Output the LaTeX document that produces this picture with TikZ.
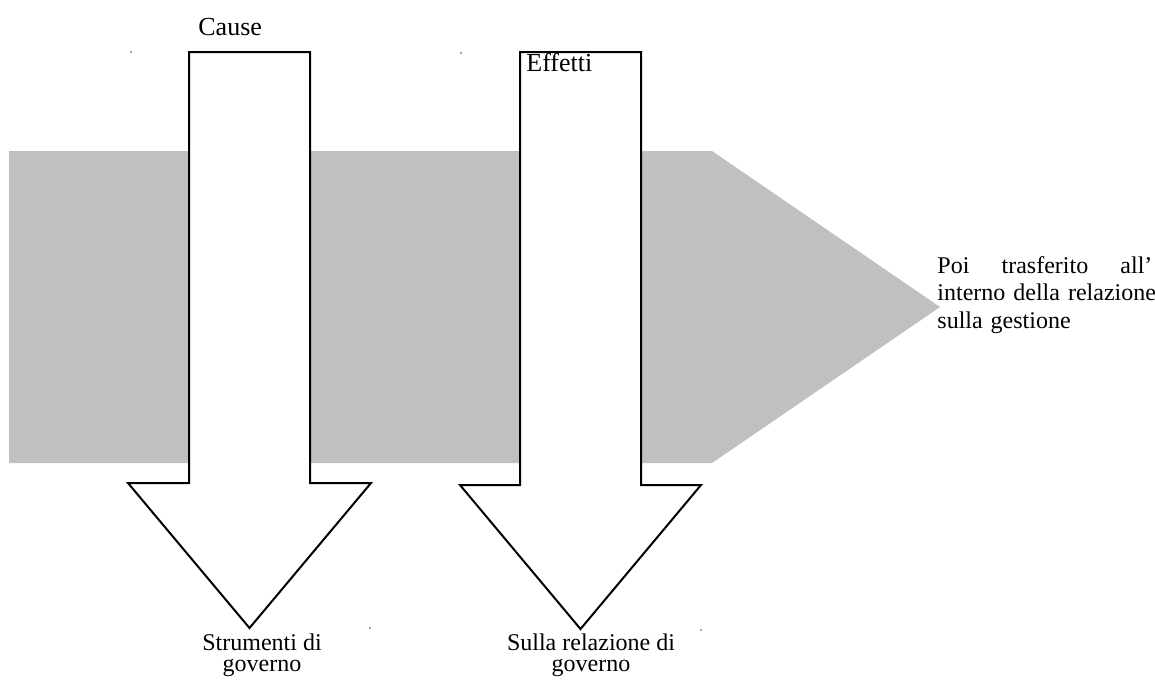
\documentclass[tikz,border=0pt]{standalone}
\usepackage{fontspec}
\setmainfont{Liberation Serif}
\definecolor{bandgray}{RGB}{192,192,192}

\begin{document}
\begin{tikzpicture}[x=0.5pt, y=-0.5pt,
        downarrow/.style={draw=black, fill=white, line width=1pt, line join=miter},
        labeltext/.style={inner sep=0pt, font=\fontsize{12}{10.5}\selectfont},
        headtext/.style={inner sep=0pt, font=\fontsize{13}{15}\selectfont},
        cornerdot/.style={fill=black!70}]
        \useasboundingbox (0,0) rectangle (1155,682);

        \fill[bandgray] (9,151) -- (712,151) -- (940,307) -- (712,463) -- (9,463) -- cycle;

        \draw[downarrow] (189,52) -- (310,52) -- (310,483) -- (371,483) -- (249.5,628) -- (128,483) -- (189,483) -- cycle;
        \draw[downarrow] (520,52) -- (641,52) -- (641,485) -- (701,485) -- (580.5,629) -- (460,485) -- (520,485) -- cycle;

        \node[headtext, anchor=base west] (cause) at (198,35) {Cause};
        \node[headtext, anchor=base west] (effetti) at (526,71) {Effetti};

        % base anchor of a multi-line node sits on its last line
        \node[labeltext, anchor=base, align=center] (strumenti) at (262,671) {Strumenti di\\governo};
        \node[labeltext, anchor=base, align=center] (sulla) at (591,671) {Sulla relazione di\\governo};

        % with text width it sits on the first line
        \node[labeltext, font=\fontsize{12}{13.75}\selectfont, anchor=base west, text width=107.5pt, align=left] (poi) at (937,273) {Poi\hfill trasferito\hfill all'\\\mbox{interno della relazione}\\\mbox{sulla gestione}};

        \fill[cornerdot] (131,52) circle (0.8);
        \fill[cornerdot] (461,53) circle (0.8);
        \fill[cornerdot] (370,628) circle (0.8);
        \fill[cornerdot] (701,630) circle (0.8);
    \end{tikzpicture}
\end{document}
